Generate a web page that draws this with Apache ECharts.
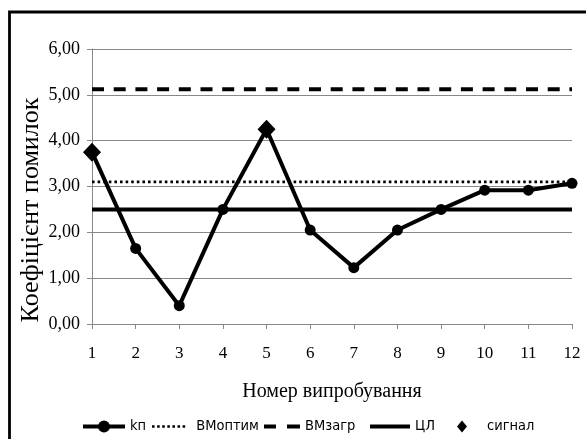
<!DOCTYPE html>
<html><head><meta charset="utf-8">
<script src="https://cdn.jsdelivr.net/npm/echarts@6/dist/echarts.min.js"></script>
<style>html,body{margin:0;padding:0;background:#fff}#c{width:586px;height:439px}</style>
</head><body><div id="c"></div>
<script>
var categories = ['1','2','3','4','5','6','7','8','9','10','11','12'];
var kp = [3.75, 1.65, 0.40, 2.50, 4.25, 2.05, 1.23, 2.05, 2.50, 2.92, 2.92, 3.07];
var vmOptim = [3.10, 3.10, 3.10, 3.10, 3.10, 3.10, 3.10, 3.10, 3.10, 3.10, 3.10, 3.10];
var vmZagr = [5.12, 5.12, 5.12, 5.12, 5.12, 5.12, 5.12, 5.12, 5.12, 5.12, 5.12, 5.12];
var cl = [2.50, 2.50, 2.50, 2.50, 2.50, 2.50, 2.50, 2.50, 2.50, 2.50, 2.50, 2.50];
var signal = [3.75, null, null, null, 4.25, null, null, null, null, null, null, null];
var seriesNames = ['kп', 'ВМоптим', 'ВМзагр', 'ЦЛ', 'сигнал'];
var xTitle = 'Номер випробування';
var yTitle = 'Коефіцієнт помилок';

var chart = echarts.init(document.getElementById('c'));
var serif = '"Liberation Serif","Times New Roman",serif';
var sans = '"Liberation Sans Narrow","DejaVu Sans Condensed","Liberation Sans",sans-serif';

function dots(n, step, s) {
  var p = '';
  for (var i = 0; i < n; i++) { p += 'M' + (i*step) + ',0h' + s + 'v' + s + 'h-' + s + 'z'; }
  return 'path://' + p;
}
function leg(name, left, icon, w, h, pad) {
  return {
    data: [{name: name, icon: icon}], left: left, top: 419, padding: 0,
    itemWidth: w, itemHeight: h, selectedMode: false,
    textStyle: {fontFamily: sans, fontSize: 14.5, color: '#000', padding: [0, 0, 0, pad || 0]}
  };
}

chart.setOption({
  animation: false,
  graphic: [
    {type:'rect', shape:{x:9.5, y:12, width:700, height:600}, style:{fill:null, stroke:'#000', lineWidth:2.8}, z:100},
    {type:'text', x:31, y:210, rotation:Math.PI/2,
      style:{text:yTitle, font:'26px ' + serif, fill:'#000', textAlign:'center', textVerticalAlign:'middle'}}
  ],
  grid: {left:92, right:14, top:49, bottom:115},
  legend: [
    leg(seriesNames[0], 83, 'path://M0,4h42v4h-42z M15,6a6,6 0 1,1 12,0a6,6 0 1,1 -12,0z', 42, 12, 0),
    leg(seriesNames[1], 152, dots(7, 5.1, 2.6), 33.2, 2.6, 6),
    leg(seriesNames[2], 264, 'path://M0,0h12v4h-12z M23,0h13v4h-13z', 36, 4, 0),
    leg(seriesNames[3], 370, 'path://M0,0h40v4h-40z', 40, 4, 0),
    leg(seriesNames[4], 457, 'path://M5,0L10,6L5,12L0,6z', 10, 12, 15)
  ],
  xAxis: {
    type:'category', data: categories, boundaryGap:false,
    name:xTitle, nameLocation:'middle', nameGap:58,
    nameTextStyle:{fontFamily:serif, fontSize:20, color:'#000'},
    axisLine:{lineStyle:{color:'#888', width:1}},
    axisTick:{show:true, alignWithLabel:true, length:5, lineStyle:{color:'#888'}},
    axisLabel:{fontFamily:serif, fontSize:17, color:'#000', margin:21},
    splitLine:{show:false}
  },
  yAxis: {
    type:'value', min:0, max:6, interval:1,
    axisLine:{show:true, lineStyle:{color:'#888', width:1}},
    axisTick:{show:true, length:5, lineStyle:{color:'#888'}},
    axisLabel:{fontFamily:serif, fontSize:18, color:'#000', margin:12,
      formatter: function(v){ return v.toFixed(2).replace('.', ','); }},
    splitLine:{show:true, lineStyle:{color:'#888', width:1}}
  },
  series: [
    {name:seriesNames[0], type:'line', data:kp, symbol:'circle', symbolSize:11, z:5,
      itemStyle:{color:'#000', opacity:1}, lineStyle:{color:'#000', width:4}},
    {name:seriesNames[1], type:'line', data:vmOptim, symbol:'none', z:3,
      itemStyle:{color:'#000'}, lineStyle:{color:'#000', width:2.6, type:[2.6,3]}},
    {name:seriesNames[2], type:'line', data:vmZagr, symbol:'none', z:3,
      itemStyle:{color:'#000'}, lineStyle:{color:'#000', width:4, type:[12,9.7]}},
    {name:seriesNames[3], type:'line', data:cl, symbol:'none', z:3,
      itemStyle:{color:'#000'}, lineStyle:{color:'#000', width:4}},
    {name:seriesNames[4], type:'scatter', data:signal, symbol:'diamond', symbolSize:[18,19], z:6,
      itemStyle:{color:'#000', opacity:1}}
  ]
});
</script></body></html>
